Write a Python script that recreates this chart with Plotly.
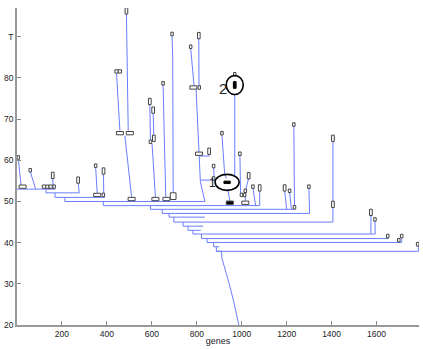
import plotly.graph_objects as go

# horizontal branch levels: time, first gene and last gene covered
level_y = [53.0, 52.1, 51.0, 50.0, 49.0, 48.1, 47.1, 46.2, 45.0, 44.0, 43.0, 42.1, 41.0, 40.05, 39.0, 37.9]
level_x0 = [0, 129, 169, 213, 384, 594, 646, 677, 698, 739, 761, 783, 821, 846, 875, 887]
level_x1 = [169, 277, 391, 836, 1080, 1235, 1302, 836, 1406, 828, 818, 1594, 1653, 1712, 900, 1787]

# stem below the oldest branch
trunk_x = [887, 910, 912, 922, 930, 942, 955, 963, 970, 978, 987]
trunk_y = [37.9, 37.9, 36.2, 34.5, 32.8, 30.5, 28.0, 26.0, 24.3, 22.2, 20.0]

# lineages hanging above the branches
lineage_x = [
    [5.8, 18], [59, 83], [159, 161], [272, 277], [350, 357], [385, 386],
    [443, 458], [487, 495], [480, 510],
    [591, 594], [606, 609], [601, 616], [650, 662], [690, 693, 695],
    [773, 781, 788], [809, 810], [797, 809, 812, 816, 836], [812, 855, 855],
    [875, 878, 816], [912, 924, 932], [938, 947], [969, 969],
    [992, 995], [1031, 1018, 1016, 1016], [1050, 1062], [1080, 1080],
    [1191, 1200], [1213, 1221], [1232, 1235], [1299, 1302], [1406, 1406],
    [1575, 1575], [1593, 1594], [1712, 1712], [1785, 1787],
]
lineage_y = [
    [60.3, 54.0], [57.3, 53.0], [55.7, 53.0], [54.6, 52.1], [58.3, 52.0], [56.8, 52.0],
    [81.0, 67.2], [95.6, 67.2], [66.0, 51.1],
    [73.6, 65.0], [71.5, 65.9], [64.0, 51.1], [78.3, 51.1], [90.3, 84.9, 52.3],
    [87.2, 82.0, 78.1], [89.6, 78.1], [77.3, 62.0, 61.3, 54.8, 50.0], [61.05, 61.05, 61.6],
    [58.3, 55.2, 55.2], [66.2, 56.8, 55.6], [53.0, 50.1], [76.0, 56.3],
    [61.2, 52.0], [55.6, 52.9, 52.5, 50.2], [53.3, 49.0], [52.7, 49.0],
    [52.7, 48.1], [52.3, 48.1], [68.4, 48.1], [53.3, 47.1], [64.8, 45.0],
    [46.8, 42.1], [45.3, 42.1], [41.3, 40.05], [39.3, 37.9],
]

# sampled nodes
box_x = [5.8, 25, 59, 120, 135, 150, 165, 159, 272, 350, 357, 384, 385,
         443, 458, 487, 458, 502, 510, 591, 606, 594, 609, 616, 650, 665, 690, 695,
         773, 809, 785, 811, 810, 855, 875, 875, 912, 947, 969,
         992, 999, 1013, 1016, 1016, 1031, 1050, 1080, 1191, 1213, 1232, 1235, 1299,
         1406, 1406, 1575, 1593, 1650, 1699, 1712, 1783]
box_y = [60.7, 53.6, 57.6, 53.6, 53.6, 53.6, 53.6, 56.35, 55.2, 58.7, 51.6, 51.6, 57.4,
         81.6, 81.6, 96.3, 66.6, 66.6, 50.6, 74.3, 72.2, 64.5, 65.35, 50.6, 78.7, 50.6, 90.7, 51.3,
         87.6, 90.3, 77.7, 77.7, 61.6, 62.2, 58.6, 55.6, 66.6, 49.7, 80.9,
         61.6, 51.6, 51.6, 52.6, 49.7, 56.25, 53.6, 53.3, 53.3, 52.6, 68.7, 48.6, 53.6,
         65.35, 49.3, 47.35, 45.65, 41.6, 40.6, 41.6, 39.6]
box_kind = ["s", "w", "s", "q", "q", "q", "s", "t", "t", "s", "w", "s", "t",
            "q", "q", "t", "w", "w", "w", "t", "t", "s", "t", "w", "s", "w", "s", "b",
            "s", "t", "w", "s", "w", "t", "s", "s", "s", "f", "s",
            "s", "s", "s", "s", "w", "t", "s", "t", "t", "s", "s", "s", "s",
            "t", "t", "t", "s", "s", "s", "s", "s"]

# highlighted nodes
mark_x = [935, 969]
mark_y = [54.65, 78.3]
mark_label = ["1", "2"]
label_x = [871, 915]
label_y = [54.4, 77.5]

line_color = "rgb(105,125,255)"
box_size = {"s": (2.5, 3.5), "t": (2.7, 6.3), "w": (7, 3.3), "q": (3.3, 3.3),
            "b": (5.7, 6.7), "f": (7, 3.3)}
ring_size = [(24, 16), (17, 19)]
core_size = [(6.3, 2.4), (2.7, 6.7)]

xs, ys = [], []
for i in range(len(level_y)):
    if i > 0:
        xs += [level_x0[i], level_x0[i], None]
        ys += [level_y[i - 1], level_y[i], None]
    xs += [level_x0[i], level_x1[i], None]
    ys += [level_y[i], level_y[i], None]
xs += trunk_x + [None]
ys += trunk_y + [None]
for lx, ly in zip(lineage_x, lineage_y):
    xs += lx + [None]
    ys += ly + [None]

fig = go.Figure(go.Scatter(x=xs, y=ys, mode="lines",
                           line=dict(color=line_color, width=1),
                           hoverinfo="skip", showlegend=False))

for bx, by, k in zip(box_x, box_y, box_kind):
    w, h = box_size[k]
    fig.add_shape(type="rect", xref="x", yref="y", xsizemode="pixel", ysizemode="pixel",
                  xanchor=bx, yanchor=by, x0=-w / 2, x1=w / 2, y0=-h / 2, y1=h / 2,
                  line=dict(color="#444", width=1),
                  fillcolor="black" if k == "f" else "white")

for i in range(len(mark_x)):
    w, h = ring_size[i]
    fig.add_shape(type="circle", xref="x", yref="y", xsizemode="pixel", ysizemode="pixel",
                  xanchor=mark_x[i], yanchor=mark_y[i], x0=-w / 2, x1=w / 2, y0=-h / 2, y1=h / 2,
                  line=dict(color="black", width=1.6))
    w, h = core_size[i]
    fig.add_shape(type="rect", xref="x", yref="y", xsizemode="pixel", ysizemode="pixel",
                  xanchor=mark_x[i], yanchor=mark_y[i], x0=-w / 2, x1=w / 2, y0=-h / 2, y1=h / 2,
                  line=dict(color="black", width=1), fillcolor="black")
    fig.add_annotation(x=label_x[i], y=label_y[i], text=mark_label[i], showarrow=False,
                       font=dict(size=12 if i == 0 else 15, color="#222"))

fig.update_layout(
    width=423, height=349,
    margin=dict(l=17, r=4, t=8, b=24.3),
    paper_bgcolor="white", plot_bgcolor="white",
    font=dict(family="Liberation Sans, Arial, sans-serif", size=8.5, color="#222"),
    xaxis=dict(range=[0, 1789], tickvals=[200, 400, 600, 800, 1000, 1200, 1400, 1600],
               ticks="inside", ticklen=4, tickcolor="#888", showline=True,
               linecolor="#999", linewidth=1.5, showgrid=False, zeroline=False,
               automargin=False,
               title=dict(text="genes", standoff=0, font=dict(size=9))),
    yaxis=dict(range=[20, 97], tickvals=[20, 30, 40, 50, 60, 70, 80, 90],
               ticktext=["20", "30", "40", "50", "60", "70", "80", "T"],
               ticks="inside", ticklen=4, tickcolor="#888", showline=True,
               linecolor="#999", linewidth=1.5, showgrid=False, zeroline=False,
               automargin=False, ticklabelstandoff=0),
)

# drop the browser's default body margin so the figure sits at the window corner
fig.write_html("out.html", config={"displayModeBar": False},
               post_script="document.body.style.margin = '0';")
